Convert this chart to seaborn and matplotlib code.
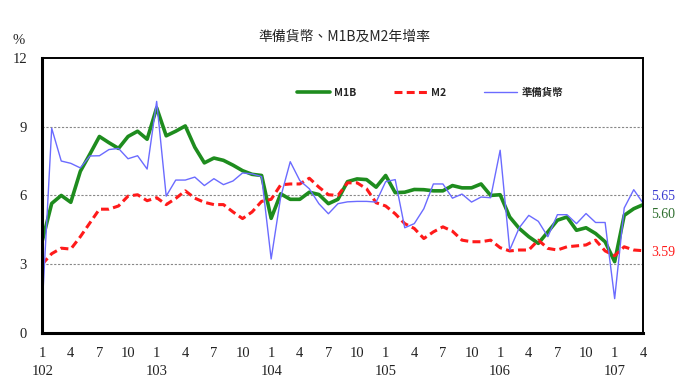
import numpy as np
import pandas as pd
import matplotlib
matplotlib.use("Agg")
import matplotlib.pyplot as plt
import seaborn as sns

# monthly year-on-year growth (%), 102/1 .. 107/4
years = ["102", "103", "104", "105", "106", "107"]
m1b = [4.0, 5.65, 6.0, 5.7, 7.05, 7.8, 8.57, 8.3, 8.05, 8.57, 8.8, 8.45,
       9.82, 8.6, 8.8, 9.03, 8.1, 7.42, 7.63, 7.53, 7.32, 7.08, 6.92, 6.87,
       5.0, 6.07, 5.83, 5.83, 6.14, 6.04, 5.64, 5.83, 6.6, 6.72, 6.69, 6.36,
       6.87, 6.12, 6.14, 6.26, 6.25, 6.2, 6.2, 6.43, 6.33, 6.33, 6.5, 6.0,
       6.03, 5.06, 4.56, 4.2, 3.91, 4.41, 4.92, 5.06, 4.48, 4.59, 4.34, 3.98,
       3.11, 5.13, 5.42, 5.60]
m2 = [3.0, 3.46, 3.7, 3.66, 4.2, 4.8, 5.4, 5.4, 5.54, 5.97, 6.03, 5.77,
      5.9, 5.6, 5.87, 6.2, 5.88, 5.7, 5.6, 5.6, 5.28, 4.99, 5.28, 5.74,
      5.83, 6.46, 6.5, 6.5, 6.75, 6.36, 6.03, 6.0, 6.55, 6.55, 6.29, 5.68,
      5.54, 5.2, 4.77, 4.56, 4.12, 4.41, 4.63, 4.44, 4.05, 3.98, 3.98, 4.05,
      3.72, 3.58, 3.62, 3.62, 4.05, 3.69, 3.62, 3.76, 3.8, 3.84, 4.05, 3.58,
      3.37, 3.76, 3.62, 3.59]
reserve = [1.1, 8.93, 7.5, 7.4, 7.2, 7.72, 7.73, 8.0, 8.05, 7.6, 7.73, 7.15,
           10.1, 5.97, 6.67, 6.67, 6.8, 6.43, 6.73, 6.47, 6.63, 6.98, 6.94, 6.82,
           3.23, 5.93, 7.47, 6.65, 6.29, 5.64, 5.2, 5.64, 5.72, 5.74, 5.74, 5.71,
           6.6, 6.69, 4.59, 4.77, 5.42, 6.5, 6.5, 5.88, 6.06, 5.71, 5.93, 5.9,
           7.97, 3.62, 4.59, 5.13, 4.87, 4.2, 5.16, 5.16, 4.77, 5.21, 4.82, 4.82,
           1.5, 5.45, 6.25, 5.65]

months = np.arange(len(m1b))
df = pd.DataFrame({"t": months, "M1B": m1b, "M2": m2, "準備貨幣": reserve})

sns.set_style("white")
cjk = ["Noto Sans CJK TC", "DejaVu Sans"]
serif = ["Liberation Serif", "DejaVu Serif"]

fig = plt.figure(figsize=(6.8, 3.83), dpi=100)
ax = fig.add_axes([0.062, 0.1305, 0.884, 0.7185])

green = "#1e8c1e"
red = "#ff1a1a"
blue = "#6b6bff"

sns.lineplot(data=df, x="t", y="M1B", ax=ax, color=green, linewidth=2.6, label="M1B")
sns.lineplot(data=df, x="t", y="M2", ax=ax, color=red, linewidth=2.2,
             linestyle=(0, (2.6, 1.4)), label="M2")
sns.lineplot(data=df, x="t", y="準備貨幣", ax=ax, color=blue, linewidth=1.0, label="準備貨幣")

ax.set_xlim(0, len(months) - 1)
ax.set_ylim(0, 12)
ax.set_yticks([0, 3, 6, 9, 12])
ax.set_yticklabels(["0", "3", "6", "9", "12"], family=serif, fontsize=10.5)

tick_pos = months[::3]
tick_labels = []
for p in tick_pos:
    m = p % 12 + 1
    if m == 1:
        tick_labels.append(f"{m}\n{years[p // 12]}")
    else:
        tick_labels.append(str(m))
ax.set_xticks(tick_pos)
ax.set_xticklabels(tick_labels, family=serif, fontsize=10.5, linespacing=1.5)
ax.tick_params(axis="x", direction="out", length=4, width=1, pad=6, colors="#222222")
ax.tick_params(axis="y", length=0, pad=11, colors="#222222")
ax.set_xlabel("")
ax.set_ylabel("")

for y in [3, 6, 9]:
    ax.axhline(y, color="#888888", linestyle=(0, (2, 1.5)), linewidth=0.8, zorder=0)

for side in ["left", "bottom"]:
    ax.spines[side].set_linewidth(2.2)
    ax.spines[side].set_color("black")
for side in ["top", "right"]:
    ax.spines[side].set_linewidth(1.4)
    ax.spines[side].set_color("black")

leg = ax.legend(loc="center", bbox_to_anchor=(0.645, 0.873), ncol=3, frameon=False,
                prop={"family": cjk, "size": 7.5, "weight": "bold"},
                handlelength=3.2, columnspacing=3.6, handletextpad=0.4)

# end-of-series labels
last = len(months) - 1
ax.annotate(f"{reserve[-1]:.2f}", xy=(last, reserve[-1]), xytext=(6, 5),
            textcoords="offset points", color="#3b3bd0", family=serif,
            fontsize=10, va="center", annotation_clip=False)
ax.annotate(f"{m1b[-1]:.2f}", xy=(last, m1b[-1]), xytext=(6, -7),
            textcoords="offset points", color="#2e6e2e", family=serif,
            fontsize=10, va="center", annotation_clip=False)
ax.annotate(f"{m2[-1]:.2f}", xy=(last, m2[-1]), xytext=(6, -1.5),
            textcoords="offset points", color=red, family=serif,
            fontsize=10, va="center", annotation_clip=False)

fig.text(0.507, 0.905, "準備貨幣、M1B及M2年增率", ha="center", va="center",
         family=cjk, fontsize=10, weight="medium")
fig.text(0.027, 0.895, "%", ha="center", va="center", family=serif, fontsize=10.5)

fig.savefig("out.png", dpi=100)
